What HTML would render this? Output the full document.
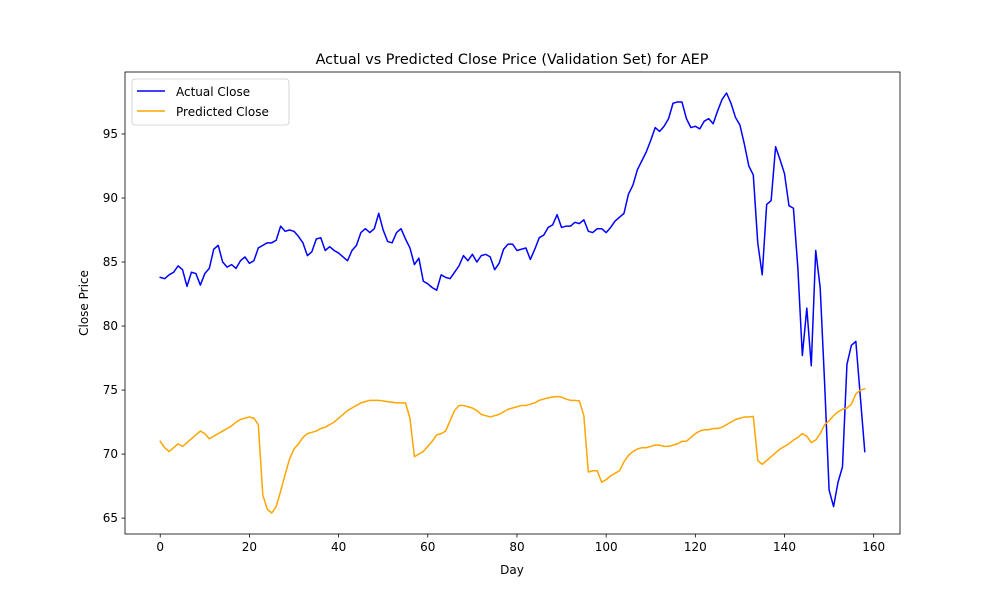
<!DOCTYPE html>
<html><head><meta charset="utf-8"><style>
body{margin:0;background:#fff;font-family:"Liberation Sans","DejaVu Sans",sans-serif;}
svg text{font-family:"DejaVu Sans","Liberation Sans",sans-serif;}
</style></head><body>
<svg id="chart" width="1000" height="600" xmlns="http://www.w3.org/2000/svg">
<rect width="1000" height="600" fill="#fff"/>
<g id="plot"></g>
</svg>
<script>
const days = Array.from({length:159},(_,i)=>i);
const actual = [83.8,83.7,84.0,84.2,84.7,84.4,83.1,84.2,84.1,83.2,84.1,84.5,86.0,86.3,85.0,84.6,84.8,84.5,85.1,85.4,84.9,85.1,86.1,86.3,86.5,86.5,86.7,87.8,87.4,87.5,87.4,87.0,86.5,85.5,85.8,86.8,86.9,85.9,86.2,85.9,85.7,85.4,85.1,85.9,86.3,87.3,87.6,87.3,87.6,88.8,87.5,86.6,86.5,87.3,87.6,86.8,86.1,84.8,85.3,83.5,83.3,83.0,82.8,84.0,83.8,83.7,84.2,84.7,85.5,85.1,85.6,85.0,85.5,85.6,85.4,84.4,84.9,86.0,86.4,86.4,85.9,86.0,86.1,85.2,86.0,86.9,87.1,87.7,87.9,88.7,87.7,87.8,87.8,88.1,88.0,88.3,87.4,87.3,87.6,87.6,87.3,87.7,88.2,88.5,88.8,90.3,91.0,92.2,92.9,93.6,94.5,95.5,95.2,95.6,96.2,97.4,97.5,97.5,96.2,95.5,95.6,95.4,96.0,96.2,95.8,96.8,97.7,98.2,97.4,96.3,95.7,94.2,92.5,91.8,86.5,84.0,89.5,89.8,94.0,93.0,91.9,89.4,89.2,84.5,77.7,81.4,76.9,85.9,83.0,75.5,67.2,65.9,67.8,69.0,77.0,78.5,78.8,74.5,70.2];
const predicted = [71.0,70.5,70.2,70.5,70.8,70.6,70.9,71.2,71.5,71.8,71.6,71.2,71.4,71.6,71.8,72.0,72.2,72.5,72.7,72.8,72.9,72.8,72.3,66.8,65.7,65.4,65.9,67.1,68.4,69.6,70.4,70.8,71.3,71.6,71.7,71.8,72.0,72.1,72.3,72.5,72.8,73.1,73.4,73.6,73.8,74.0,74.1,74.2,74.2,74.2,74.15,74.1,74.05,74.0,74.0,74.0,72.8,69.8,70.0,70.2,70.6,71.0,71.5,71.6,71.8,72.6,73.4,73.8,73.8,73.7,73.6,73.4,73.1,73.0,72.9,73.0,73.1,73.3,73.5,73.6,73.7,73.8,73.8,73.9,74.0,74.2,74.3,74.4,74.45,74.5,74.45,74.3,74.2,74.2,74.15,73.0,68.6,68.7,68.7,67.8,68.0,68.3,68.5,68.7,69.4,69.9,70.2,70.4,70.5,70.5,70.6,70.7,70.7,70.6,70.6,70.7,70.8,71.0,71.0,71.3,71.6,71.8,71.9,71.9,72.0,72.0,72.1,72.3,72.5,72.7,72.8,72.9,72.9,72.95,69.5,69.2,69.5,69.8,70.1,70.4,70.6,70.8,71.1,71.3,71.6,71.4,70.9,71.1,71.6,72.3,72.6,73.0,73.3,73.5,73.6,73.9,74.7,75.0,75.1];
const xTicks = [0,20,40,60,80,100,120,140,160];
const yTicks = [65,70,75,80,85,90,95];

const L=125,R=900,T=72,B=534;
const xmin=-7.9,xmax=165.9,ymin=63.76,ymax=99.84;
const sx=v=>L+(v-xmin)/(xmax-xmin)*(R-L);
const sy=v=>B-(v-ymin)/(ymax-ymin)*(B-T);
const NS="http://www.w3.org/2000/svg";
const g=document.getElementById('plot');
function mk(tag,attrs,parent){const e=document.createElementNS(NS,tag);for(const k in attrs)e.setAttribute(k,attrs[k]);(parent||g).appendChild(e);return e;}

function line(vals,color,name){
  const d=vals.map((v,i)=>(i?'L':'M')+sx(days[i]).toFixed(2)+','+sy(v).toFixed(2)).join('');
  const p=mk('path',{d:d,fill:'none',stroke:color,'stroke-width':1.5,'stroke-linejoin':'round','stroke-linecap':'square'});
  
  
}
line(actual,'#0000ff','actual-close-line');
line(predicted,'#ffa500','predicted-close-line');

const frame=mk('rect',{x:L,y:T,width:R-L,height:B-T,fill:'none',stroke:'#000','stroke-width':0.8});



xTicks.forEach(t=>{
  const x=sx(t);
  const tk=mk('line',{x1:x,x2:x,y1:B,y2:B+3.5,stroke:'#000','stroke-width':0.8});
  
  
  const tx=mk('text',{x:x,y:B+17,'font-size':12,'text-anchor':'middle',fill:'#000'});
  tx.textContent=t;
  
  
});
yTicks.forEach(t=>{
  const y=sy(t);
  const tk=mk('line',{x1:L-3.5,x2:L,y1:y,y2:y,stroke:'#000','stroke-width':0.8});
  
  
  const tx=mk('text',{x:L-7,y:y+4,'font-size':12,'text-anchor':'end',fill:'#000'});
  tx.textContent=t;
  
  
});
</script>
<svg style="position:absolute;left:0;top:0" width="1000" height="600">
<text x="512" y="64" font-size="14.4" text-anchor="middle" font-family="DejaVu Sans, Liberation Sans, sans-serif">Actual vs Predicted Close Price (Validation Set) for AEP</text>
<text x="512" y="574" font-size="12" text-anchor="middle" font-family="DejaVu Sans, Liberation Sans, sans-serif">Day</text>
<text x="0" y="0" font-size="12" text-anchor="middle" transform="translate(88,303) rotate(-90)" font-family="DejaVu Sans, Liberation Sans, sans-serif">Close Price</text>
<g>
<rect x="132" y="79" width="157" height="46" rx="3" fill="#fff" fill-opacity="0.8" stroke="#ccc" stroke-width="0.8"/>
<line x1="137" y1="91" x2="165" y2="91" stroke="#0000ff" stroke-width="1.5"/>
<text x="176" y="96" font-size="12" font-family="DejaVu Sans, Liberation Sans, sans-serif">Actual Close</text>
<line x1="137" y1="111" x2="165" y2="111" stroke="#ffa500" stroke-width="1.5"/>
<text x="176" y="116" font-size="12" font-family="DejaVu Sans, Liberation Sans, sans-serif">Predicted Close</text>
</g>
</svg>
</body></html>
